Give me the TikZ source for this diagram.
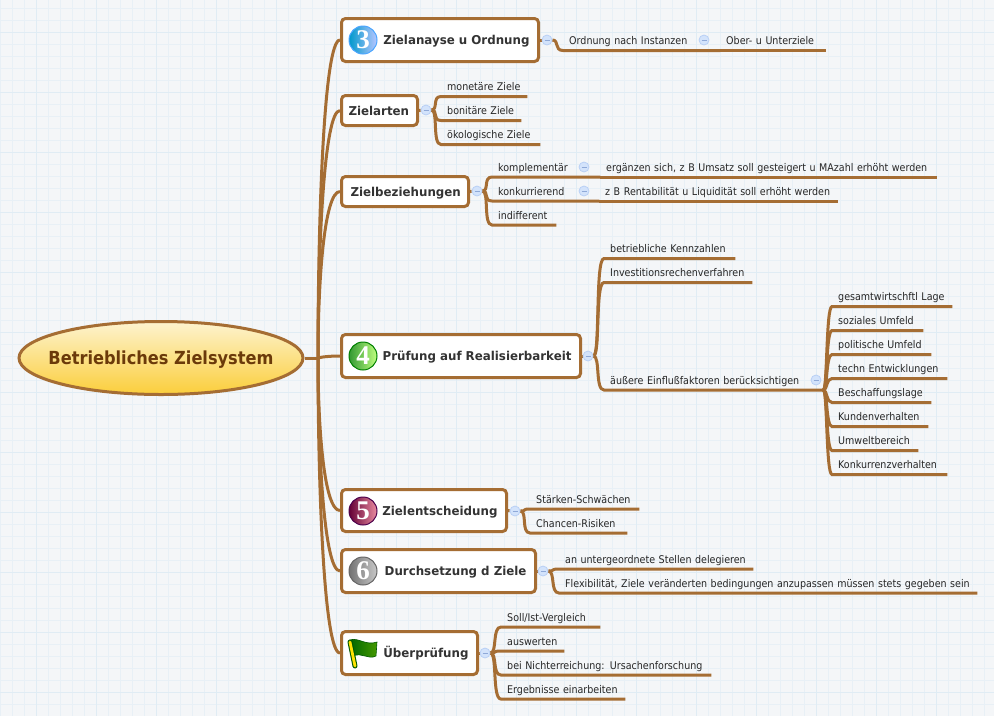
\documentclass[tikz,border=0pt]{standalone}
\usepackage{fontspec}
\usepackage{tikz}
\usetikzlibrary{shapes.geometric, backgrounds}
\setmainfont{DejaVu Sans}
\newfontfamily\leaffont[FakeStretch=0.9]{DejaVu Sans}
\newfontfamily\topicfont[FakeStretch=0.97]{DejaVu Sans}
\newfontfamily\rootfont[FakeStretch=0.9]{DejaVu Sans}
\newfontfamily\badgefont{Liberation Serif}
\definecolor{branchbrown}{HTML}{A56D33}
\definecolor{papercolor}{HTML}{F4F6F8}
\definecolor{gridcolor}{HTML}{E8F0F6}
\definecolor{gridmajor}{HTML}{E0ECF4}
\definecolor{rootlight}{HTML}{FDF3CF}
\definecolor{rootdark}{HTML}{FBCE3B}
\definecolor{roottext}{HTML}{6B3A0A}
\definecolor{foldfill}{HTML}{D3E3FB}
\definecolor{foldline}{HTML}{B9D0F5}
\definecolor{foldminus}{HTML}{8FA9D8}
\tikzset{
    branch/.style={branchbrown, line width=3pt},
    centre/.style={ellipse, draw=branchbrown, line width=3pt, inner xsep=-12.5pt, inner ysep=0pt,
        minimum width=284pt, minimum height=73pt,
        top color=rootlight, bottom color=rootdark,
        text height=18pt, text depth=4.4pt,
        text=roottext, font=\rootfont\bfseries\fontsize{18}{20}\selectfont},
    topic/.style={rectangle, rounded corners=4pt, draw=branchbrown, line width=3pt,
        fill=white, anchor=west, inner xsep=9pt, text width=#1pt-18pt, align=right,
        text height=12pt, text depth=3pt,
        text=black!80, font=\topicfont\bfseries\fontsize{12.2}{14}\selectfont},
    leaf/.style={anchor=south west, inner xsep=6pt, inner ysep=0pt,
        text width=#1pt-12pt, align=left, text height=8pt, text depth=5.8pt,
        text=black!85, font=\leaffont\fontsize{10.6}{12}\selectfont},
    folder/.style={circle, minimum size=10pt, inner sep=0pt, fill=foldfill,
        draw=foldline, line width=0.8pt,
        path picture={\draw[foldminus, line width=0.7pt]
            ([xshift=-2.5pt]path picture bounding box.center) --
            ([xshift=2.5pt]path picture bounding box.center);}},
    badge/.style={circle, minimum size=28pt, inner sep=0pt, line width=1pt,
        text=white, font=\badgefont\bfseries\fontsize{27}{27}\selectfont},
}
\begin{document}
\begin{tikzpicture}[x=1pt, y=-1pt]
    \useasboundingbox (0,0) rectangle (994,716);

    % main topics
    \node[centre] (root) at (161,358) {Betriebliches Zielsystem};
    \coordinate (hub) at (318,358);
    \node[topic=197, minimum height=43pt] (zielanayse) at (340,40) {Zielanayse u Ordnung};
    \node[topic=76, minimum height=30pt, inner xsep=7pt, text width=62pt, align=left] (zielarten) at (340,110.5) {Zielarten};
    \node[topic=127, minimum height=30pt] (zielbez) at (340,191.5) {Zielbeziehungen};
    \node[topic=239, minimum height=43pt] (pruefung) at (340,356) {Prüfung auf Realisierbarkeit};
    \node[topic=165, minimum height=42pt] (entscheid) at (340,510.5) {Zielentscheidung};
    \node[topic=194, minimum height=43pt] (durchsetz) at (340,571) {Durchsetzung d Ziele};
    \node[topic=136, minimum height=43pt] (ueberpr) at (340,653) {Überprüfung};

    % icons
    \node[badge, left color=cyan!75!blue!80!black, right color=cyan!20!blue!28!white,
        draw=blue!50!cyan!70!white] (nrdrei) at (363,40) {3};
    \node[badge, left color=green!50!black!80!white, right color=green!50!yellow!50!white,
        draw=green!50!black] (nrvier) at (363,356) {4};
    \node[badge, left color=violet!70!red!60!black, right color=violet!35!red!45!white,
        draw=violet!60!black] (nrfuenf) at (363,511) {5};
    \node[badge, left color=black!55, right color=black!22,
        draw=black!60] (nrsechs) at (363,571) {6};
    \draw[left color=green!40!black, right color=yellow!45!green!60!black, draw=green!35!black, line width=0.6pt]
        (350,640) .. controls (358,637) and (366,646) .. (377,642)
        -- (376,656) .. controls (368,660) and (362,652) .. (353,656) -- cycle;
    \draw[green!35!black, line width=5pt, line cap=round] (350,642) -- (355,666);
    \draw[yellow!85!orange, line width=2.8pt, line cap=round] (350,642) -- (355,666);

    % collapse marks
    \node[folder] (zielanaysefold) at (547,40) {};
    \node[folder] (zielartenfold) at (426,110) {};
    \node[folder] (zielbezfold) at (477,191) {};
    \node[folder] (pruefungfold) at (588,356) {};
    \node[folder] (entscheidfold) at (515,511) {};
    \node[folder] (durchsetzfold) at (543,571) {};
    \node[folder] (ueberprfold) at (485,653) {};
    \node[folder] (ordnungfold) at (704,40) {};
    \node[folder] (kompfold) at (584,167) {};
    \node[folder] (konkfold) at (584,191) {};
    \node[folder] (aeussfold) at (816,380) {};

    % sub topics
    \node[leaf=157] (ordnung) at (563,50.5) {Ordnung nach Instanzen};
    \node[leaf=106] (ober) at (720,50.5) {Ober- u Unterziele};
    \node[leaf=86] (monetaer) at (441,96.5) {monetäre Ziele};
    \node[leaf=80] (bonitaer) at (441,120.5) {bonitäre Ziele};
    \node[leaf=99] (oekolog) at (441,144.5) {ökologische Ziele};
    \node[leaf=108] (komp) at (492,177) {komplementär};
    \node[leaf=337] (ergaenzen) at (600,177) {ergänzen sich, z B Umsatz soll gesteigert u MAzahl erhöht werden};
    \node[leaf=107] (konk) at (492,201) {konkurrierend};
    \node[leaf=239] (rentab) at (599,201) {z B Rentabilität u Liquidität soll erhöht werden};
    \node[leaf=64] (indiff) at (492,225) {indifferent};
    \node[leaf=131] (kennz) at (604,258.5) {betriebliche Kennzahlen};
    \node[leaf=148] (invest) at (604,282.5) {Investitionsrechenverfahren};
    \node[leaf=219] (aeuss) at (604,390) {äußere Einflußfaktoren berücksichtigen};
    \node[leaf=120] (gesamt) at (832,306.5) {gesamtwirtschftl Lage};
    \node[leaf=91] (sozial) at (832,330.5) {soziales Umfeld};
    \node[leaf=99] (polit) at (832,354.5) {politische Umfeld};
    \node[leaf=115] (techn) at (832,378.5) {techn Entwicklungen};
    \node[leaf=99] (beschaff) at (832,402.5) {Beschaffungslage};
    \node[leaf=96] (kunden) at (832,426.5) {Kundenverhalten};
    \node[leaf=86] (umwelt) at (832,450.5) {Umweltbereich};
    \node[leaf=115] (konkurrenz) at (832,474.5) {Konkurrenzverhalten};
    \node[leaf=109] (staerken) at (530,509) {Stärken-Schwächen};
    \node[leaf=97] (chancen) at (530,533) {Chancen-Risiken};
    \node[leaf=194] (stellen) at (559,569) {an untergeordnete Stellen delegieren};
    \node[leaf=418] (flexib) at (559,593) {Flexibilität, Ziele veränderten bedingungen anzupassen müssen stets gegeben sein};
    \node[leaf=99] (sollist) at (501,627) {Soll/Ist-Vergleich};
    \node[leaf=63] (auswerten) at (501,651) {auswerten};
    \node[leaf=210] (nichterr) at (501,675) {bei Nichterreichung: Ursachenforschung};
    \node[leaf=124] (ergebn) at (501,699) {Ergebnisse einarbeiten};

    \begin{pgfonlayer}{background}
        \fill[papercolor] (0,0) rectangle (994,716);
        \foreach \i in {0,12,...,984}
            \draw[gridcolor, line width=0.8pt] (\i,0) -- (\i,716);
        \foreach \j in {8.5,20.5,...,710}
            \draw[gridcolor, line width=0.8pt] (0,\j) -- (994,\j);
        \foreach \i in {36,96,...,984}
            \draw[gridmajor, line width=1pt] (\i,0) -- (\i,716);
        \foreach \j in {32.5,92.5,...,710}
            \draw[gridmajor, line width=1pt] (0,\j) -- (994,\j);

        \draw[branch] (root.east) -- (hub);
        \foreach \topicname/\bend in {zielanayse/-143, zielarten/-110, zielbez/-75,
                pruefung/0, entscheid/70, durchsetz/95, ueberpr/130}{
            \draw[branch] (hub) .. controls +(0,\bend) and +(-16,0) .. (\topicname.west);
            \draw[branch] (\topicname.east) -- (\topicname fold);
        }
        \foreach \parent/\kids in {zielanaysefold/{ordnung},
                zielartenfold/{monetaer,bonitaer,oekolog},
                zielbezfold/{komp,konk,indiff},
                pruefungfold/{kennz,invest,aeuss},
                entscheidfold/{staerken,chancen},
                durchsetzfold/{stellen,flexib},
                ueberprfold/{sollist,auswerten,nichterr,ergebn}}{
            \foreach \kid in \kids
                \draw[branch] (\parent.east) .. controls +(7,0) and +(-9,0) ..
                    (\kid.south west) -- (\kid.south east);
        }
        \foreach \kid in {gesamt,sozial,polit,techn,beschaff,kunden,umwelt,konkurrenz}
            \draw[branch] (aeuss.south east) .. controls +(4,0) and +(-6,0) ..
                (\kid.south west) -- (\kid.south east);
        \draw[branch] (ordnung.south east) -- (ober.south east);
        \draw[branch] (komp.south east) -- (ergaenzen.south east);
        \draw[branch] (konk.south east) -- (rentab.south east);
    \end{pgfonlayer}
\end{tikzpicture}
\end{document}
